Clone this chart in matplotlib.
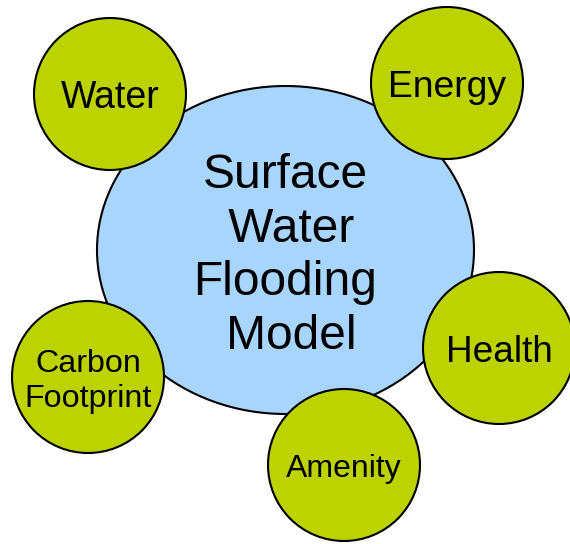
import matplotlib
matplotlib.use("Agg")
import matplotlib.pyplot as plt
from matplotlib.patches import Ellipse, Circle

plt.rcParams['font.family'] = ['Liberation Sans', 'DejaVu Sans']

center_label = "Surface\n Water\nFlooding\n Model"
center_xy = (285.5, 250)
center_size = (377, 328)

labels = ["Water", "Energy", "Health", "Amenity", "Carbon\nFootprint"]
cx = [110, 447, 499, 344, 88]
cy = [94, 83, 348, 465, 377]
radius = [76, 76, 76, 76, 76]
fsizes = [27, 26.8, 26.6, 23, 23.2]

W, H = 570, 544
fig = plt.figure(figsize=(W/100, H/100), dpi=100)
ax = fig.add_axes([0, 0, 1, 1])
ax.set_xlim(0, W)
ax.set_ylim(H, 0)
ax.set_aspect('equal')
ax.axis('off')

ell = Ellipse(center_xy, center_size[0], center_size[1], facecolor='#A8D5FC',
              edgecolor='black', linewidth=1.5, zorder=1)
ax.add_patch(ell)
ax.text(center_xy[0] - 0.5, center_xy[1] + 6, center_label, ha='center', va='center',
        fontsize=34.5, linespacing=1.24, zorder=2)

for lab, x, y, r, fs in zip(labels, cx, cy, radius, fsizes):
    ax.add_patch(Circle((x, y), r, facecolor='#BDD300', edgecolor='black',
                        linewidth=1.5, zorder=3))
    ax.text(x, y + 4.5, lab, ha='center', va='center', fontsize=fs, zorder=4,
            linespacing=1.19)

fig.savefig("out.png", dpi=100)
